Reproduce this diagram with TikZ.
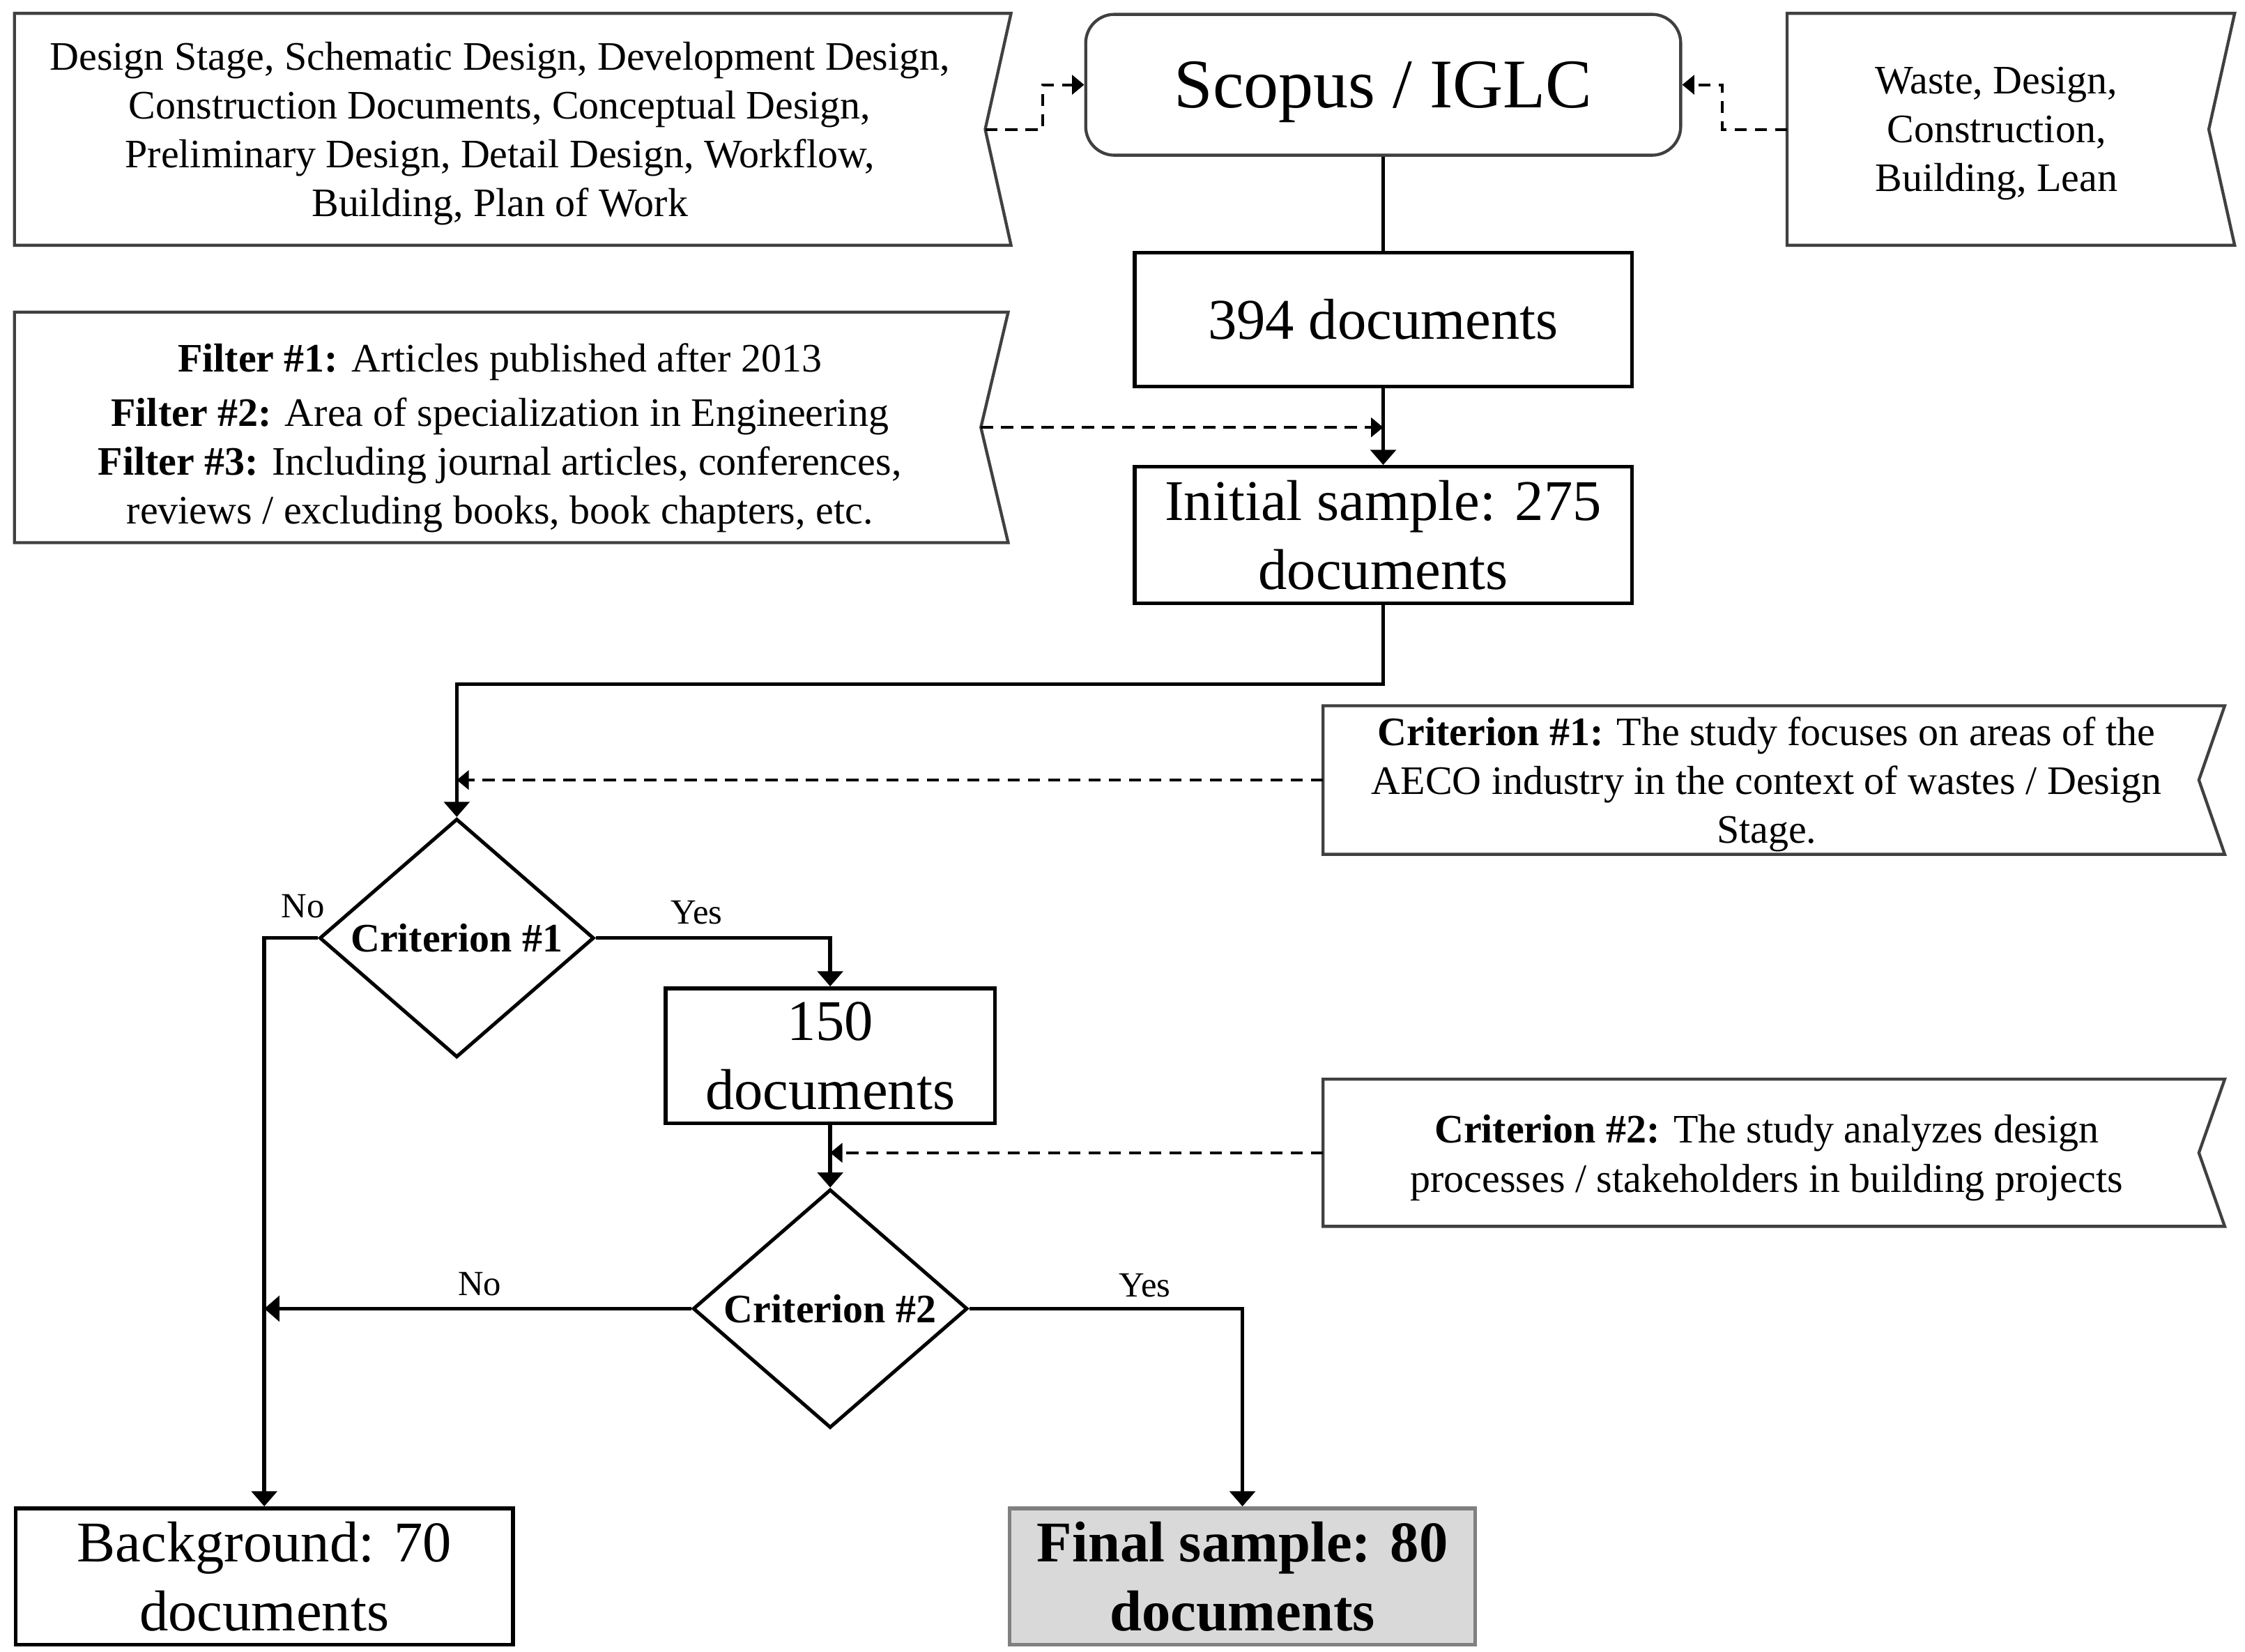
\documentclass[tikz,border=0pt]{standalone}
\usepackage{fontspec}
\setmainfont{Liberation Serif}
\usetikzlibrary{arrows.meta,calc,shapes.geometric}
\definecolor{flagc}{HTML}{404040}
\definecolor{finalfill}{HTML}{D9D9D9}
\definecolor{finaldraw}{HTML}{808080}
\begin{document}
\begin{tikzpicture}[x=0.01cm,y=-0.01cm,
  flagbox/.style={inner sep=0pt},
  flagline/.style={draw=flagc, line width=0.6pt, line join=miter},
  smalltext/.style={inner sep=0pt, align=center, font=\fontsize{8}{9.7}\selectfont},
  bigbox/.style={draw=black, line width=0.75pt, inner sep=0pt, align=center, font=\fontsize{11.4}{13.7}\selectfont},
  decision/.style={diamond, draw=black, line width=0.7pt, inner sep=0pt, font=\fontsize{8}{9.7}\selectfont\bfseries, minimum width=1.91cm, minimum height=1.66cm, aspect=1.15},
  lbl/.style={inner sep=0pt, font=\fontsize{7}{8}\selectfont},
  arr/.style={line width=0.75pt, -{Triangle[width=5pt,length=3pt]}},
  conn/.style={line width=0.75pt},
  darr/.style={line width=0.55pt, dash pattern=on 2.4pt off 1.6pt, -{Triangle[width=3.8pt,length=2.4pt]}}
]
\useasboundingbox (0,0) rectangle (1563,1150);

% --- Scopus box
\node[draw=flagc, line width=0.6pt, rounded corners=0.2cm, minimum width=4.14cm, minimum height=0.98cm, inner sep=0pt, text depth=0pt, font=\fontsize{13.8}{16}\selectfont] (scopus) at (963,59) {Scopus / IGLC};

% --- keyword flags
\node[flagbox, minimum width=6.92cm, minimum height=1.6cm] (kw1) at (357,90) {};
\coordinate (kw1n) at ($(kw1.east)+(-18,0)$);
\draw[flagline] (kw1.north west) -- (kw1.north east) -- (kw1n) -- (kw1.south east) -- (kw1.south west) -- cycle;
\node[smalltext] (kw1t) at (348,93) {Design Stage, Schematic Design, Development Design,\\ Construction Documents, Conceptual Design,\\ Preliminary Design, Detail Design, Workflow,\\ Building, Plan of Work};

\node[flagbox, minimum width=3.10cm, minimum height=1.6cm] (kw2) at (1400,90) {};
\coordinate (kw2n) at ($(kw2.east)+(-18,0)$);
\draw[flagline] (kw2.north west) -- (kw2.north east) -- (kw2n) -- (kw2.south east) -- (kw2.south west) -- cycle;
\node[smalltext] (kw2t) at (1390,93) {Waste, Design,\\ Construction,\\ Building, Lean};

% --- filters flag
\node[flagbox, minimum width=6.90cm, minimum height=1.59cm] (filt) at (356,297.5) {};
\coordinate (filtn) at ($(filt.east)+(-19,0)$);
\draw[flagline] (filt.north west) -- (filt.north east) -- (filtn) -- (filt.south east) -- (filt.south west) -- cycle;
\node[smalltext] (filtt) at (348,305) {\textbf{Filter \#1:} Articles published after 2013\\[1pt] \textbf{Filter \#2:} Area of specialization in Engineering\\ \textbf{Filter \#3:} Including journal articles, conferences,\\ reviews / excluding books, book chapters, etc.};

% --- criterion flags
\node[flagbox, minimum width=6.26cm, minimum height=1.02cm] (c1) at (1235,543) {};
\coordinate (c1n) at ($(c1.east)+(-18,0)$);
\draw[flagline] (c1.north west) -- (c1.north east) -- (c1n) -- (c1.south east) -- (c1.south west) -- cycle;
\node[smalltext] (c1t) at (1230,546) {\textbf{Criterion \#1:} The study focuses on areas of the\\ AECO industry in the context of wastes / Design\\ Stage.};

\node[flagbox, minimum width=6.26cm, minimum height=1.01cm] (c2) at (1235,802.5) {};
\coordinate (c2n) at ($(c2.east)+(-18,0)$);
\draw[flagline] (c2.north west) -- (c2.north east) -- (c2n) -- (c2.south east) -- (c2.south west) -- cycle;
\node[smalltext] (c2t) at (1230,806) {\textbf{Criterion \#2:} The study analyzes design\\ processes / stakeholders in building projects};

% --- main boxes
\node[bigbox, minimum width=3.46cm, minimum height=0.93cm] (n394) at (963,222.5) {394 documents};
\node[bigbox, minimum width=3.46cm, minimum height=0.95cm] (init) at (963,372.5) {Initial sample: 275\\ documents};
\node[bigbox, minimum width=2.29cm, minimum height=0.94cm] (n150) at (578,735) {150\\ documents};
\node[bigbox, minimum width=3.46cm, minimum height=0.95cm] (bg) at (184,1097.5) {Background: 70\\ documents};
\node[bigbox, draw=finaldraw, fill=finalfill, minimum width=3.24cm, minimum height=0.95cm, font=\fontsize{11.4}{13.7}\selectfont\bfseries] (final) at (865,1097.5) {Final sample: 80\\ documents};

% --- decisions
\node[decision] (d1) at (318,653) {Criterion \#1};
\node[decision] (d2) at (578,911) {Criterion \#2};

% --- connectors
\draw[darr] (kw1n) -- ++(40,0) |- (scopus.west);
\draw[darr] (kw2.west) -- ++(-45,0) |- (scopus.east);
\draw[conn] (scopus.south) -- (n394.north);
\draw[arr] (n394.south) -- (init.north);
\draw[darr] (filtn) -- (filtn -| init.north);
\draw[arr] (init.south) -- ++(0,55) -| (d1.north);
\draw[darr] (c1.west) -- (c1.west -| d1.north);
\draw[arr] (d1.west) -| (bg.north);
\draw[arr] (d1.east) -| (n150.north);
\draw[arr] (n150.south) -- (d2.north);
\draw[darr] (c2.west) -- (c2.west -| d2.north);
\draw[arr] (d2.west) -- (d2.west -| bg.north);
\draw[arr] (d2.east) -| (final.north);

% --- labels
\node[lbl] (no1) at (211,631) {No};
\node[lbl] (yes1) at (485,635) {Yes};
\node[lbl] (no2) at (334,894) {No};
\node[lbl] (yes2) at (797,895) {Yes};
\end{tikzpicture}
\end{document}
